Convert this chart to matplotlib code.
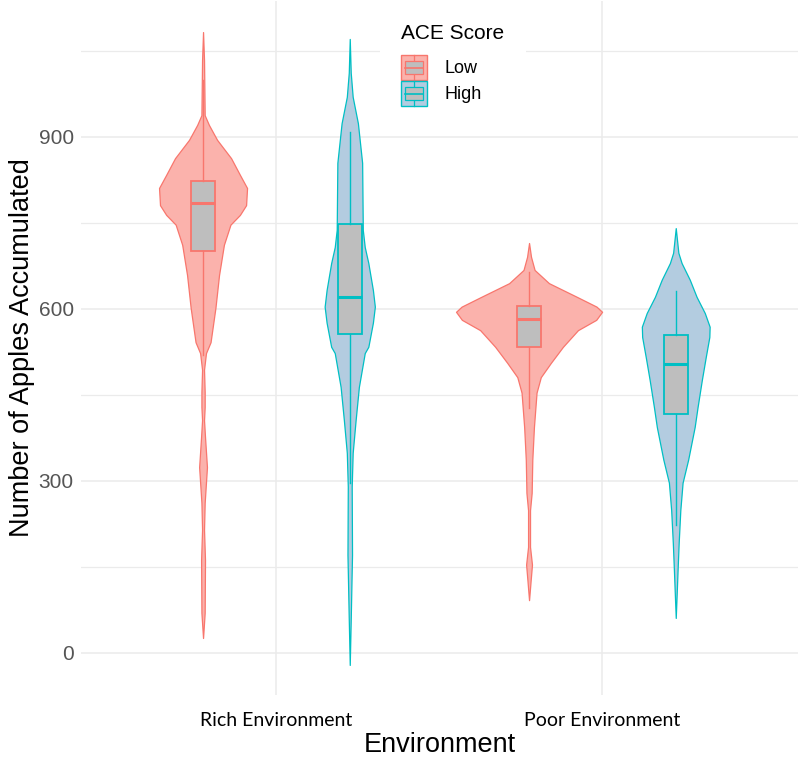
import matplotlib
matplotlib.use("Agg")
import matplotlib.pyplot as plt
from matplotlib.patches import Rectangle, Patch
from matplotlib.lines import Line2D
from matplotlib.legend_handler import HandlerBase

# категории и группы
environments = ["Rich Environment", "Poor Environment"]
ace_levels = ["Low", "High"]
edge_colors = {"Low": "#F8766D", "High": "#00BFC4"}
fill_colors = {"Low": "#fbb2ac", "High": "#b3cce0"}

# профили скрипичных графиков: значения (яблоки) и полуширина (в долях категории)
rich_low_y = [1083, 1034, 938, 921, 895, 863, 834, 811, 781, 764, 747, 712, 659, 602, 542,
              523, 494, 455, 429, 406, 377, 324, 262, 215, 162, 70, 26]
rich_low_w = [0, 0.003, 0.005, 0.018, 0.043, 0.086, 0.113, 0.135, 0.132, 0.113, 0.084, 0.064,
              0.049, 0.038, 0.023, 0.009, 0.003, 0.005, 0.005, 0.003, 0.006, 0.012, 0.005,
              0.003, 0.006, 0.005, 0]

rich_high_y = [1071, 1012, 970, 924, 855, 738, 708, 680, 633, 604, 576, 534, 523, 464, 406,
               349, 290, 171, 115, 58, -21]
rich_high_w = [0, 0.003, 0.009, 0.025, 0.038, 0.040, 0.046, 0.057, 0.071, 0.077, 0.071, 0.057,
               0.046, 0.028, 0.018, 0.009, 0.006, 0.007, 0.005, 0.003, 0]

poor_low_y = [715, 691, 668, 645, 621, 604, 595, 581, 563, 534, 506, 481, 454, 394, 337,
              279, 249, 185, 154, 127, 92]
poor_low_w = [0, 0.006, 0.017, 0.061, 0.147, 0.207, 0.224, 0.206, 0.150, 0.104, 0.067, 0.036,
              0.023, 0.015, 0.010, 0.008, 0.003, 0.003, 0.009, 0.005, 0]

poor_high_y = [741, 698, 680, 651, 621, 593, 569, 551, 516, 476, 429, 394, 337, 297, 249,
               192, 150, 105, 61]
poor_high_w = [0, 0.008, 0.018, 0.043, 0.064, 0.089, 0.104, 0.103, 0.092, 0.080, 0.067, 0.058,
               0.038, 0.021, 0.014, 0.009, 0.006, 0.003, 0]

# статистика ящиков: Rich-Low, Rich-High, Poor-Low, Poor-High
box_q1 = [701, 557, 534, 417]
box_med = [785, 621, 583, 504]
box_q3 = [823, 748, 605, 555]
box_lo = [520, 296, 427, 223]
box_hi = [1000, 909, 665, 631]

violins = [(rich_low_y, rich_low_w), (rich_high_y, rich_high_w),
           (poor_low_y, poor_low_w), (poor_high_y, poor_high_w)]

fig = plt.figure(figsize=(8, 7.57), dpi=100)
ax = fig.add_axes([0.101, 0.082, 0.8965, 0.9167])

dodge = 0.225
k = 0
for i, env in enumerate(environments):
    for j, lvl in enumerate(ace_levels):
        pos = i + 1 + (dodge if j else -dodge)
        ys, ws = violins[k]
        ax.fill_betweenx(ys, [pos - w for w in ws], [pos + w for w in ws],
                         facecolor=fill_colors[lvl], edgecolor=edge_colors[lvl],
                         linewidth=0.9, zorder=2)
        st = dict(q1=box_q1[k], med=box_med[k], q3=box_q3[k],
                  whislo=box_lo[k], whishi=box_hi[k], fliers=[])
        ax.bxp([st], positions=[pos], widths=0.074, patch_artist=True,
               showfliers=False, showcaps=False, manage_ticks=False,
               boxprops=dict(facecolor="#bebebe", edgecolor=edge_colors[lvl], linewidth=1.3),
               medianprops=dict(color=edge_colors[lvl], linewidth=2.2),
               whiskerprops=dict(color=edge_colors[lvl], linewidth=1.0),
               zorder=3)
        k += 1

ax.set_xlim(0.4, 2.6)
ax.set_ylim(-73.3, 1137.2)
ax.set_xticks([1, 2])
ax.set_xticklabels(environments, family="Lato", fontsize=14, color="black")
ax.set_yticks([0, 300, 600, 900])
ax.set_yticks([150, 450, 750, 1050], minor=True)
ax.tick_params(axis="y", labelsize=15, labelcolor="#555555", length=0, pad=5)
ax.tick_params(axis="x", length=0, pad=12)
ax.tick_params(which="minor", length=0)
for lab in ax.get_yticklabels():
    lab.set_family("Liberation Sans")
ax.grid(True, which="major", color="#ebebeb", linewidth=1.1, zorder=0)
ax.grid(True, which="minor", axis="y", color="#ebebeb", linewidth=0.9, zorder=0)
ax.set_axisbelow(True)
for s in ax.spines.values():
    s.set_visible(False)

ax.set_xlabel("Environment", family="Liberation Sans", fontsize=19.5, va="center")
ax.set_ylabel("Number of Apples Accumulated", family="Liberation Sans", fontsize=19.5, va="center")
ax.xaxis.set_label_coords(0.5, -0.072)
ax.yaxis.set_label_coords(-0.082, 0.5)


class KeyHandler(HandlerBase):
    def create_artists(self, legend, orig_handle, xdescent, ydescent, width, height, fontsize, trans):
        fc = orig_handle.get_facecolor()
        ec = orig_handle.get_edgecolor()
        x0, y0 = -xdescent, -ydescent
        sq = Rectangle((x0, y0), width, height, facecolor=fc, edgecolor=ec, linewidth=1.0, transform=trans)
        cx = x0 + width / 2
        wl = Line2D([cx, cx], [y0, y0 + height], color=ec, linewidth=0.9, transform=trans)
        bx = Rectangle((x0 + width * 0.15, y0 + height * 0.25), width * 0.7, height * 0.5,
                       facecolor="#bebebe", edgecolor=ec, linewidth=0.9, transform=trans)
        md = Line2D([x0 + width * 0.15, x0 + width * 0.85], [y0 + height / 2] * 2, color=ec,
                    linewidth=1.2, transform=trans)
        return [sq, wl, bx, md]


handles = [Patch(facecolor=fill_colors[l], edgecolor=edge_colors[l]) for l in ace_levels]
leg = fig.legend(handles, ace_levels, handler_map={Patch: KeyHandler()},
                 loc="upper center", bbox_to_anchor=(453 / 800, 1 - 2 / 757),
                 title="ACE Score", frameon=True, facecolor="white", edgecolor="white",
                 framealpha=1, fancybox=False, prop={"family": "Liberation Sans", "size": 13},
                 title_fontproperties={"family": "Liberation Sans", "size": 15},
                 handlelength=1.4, handleheight=1.75, labelspacing=0.05, handletextpad=1.0,
                 borderpad=1.2, borderaxespad=0, alignment="left")
leg.get_frame().set_linewidth(0)
leg._legend_box.sep = 9  # отступ между заголовком и ключами

fig.savefig("out.png", dpi=100, facecolor="white")
